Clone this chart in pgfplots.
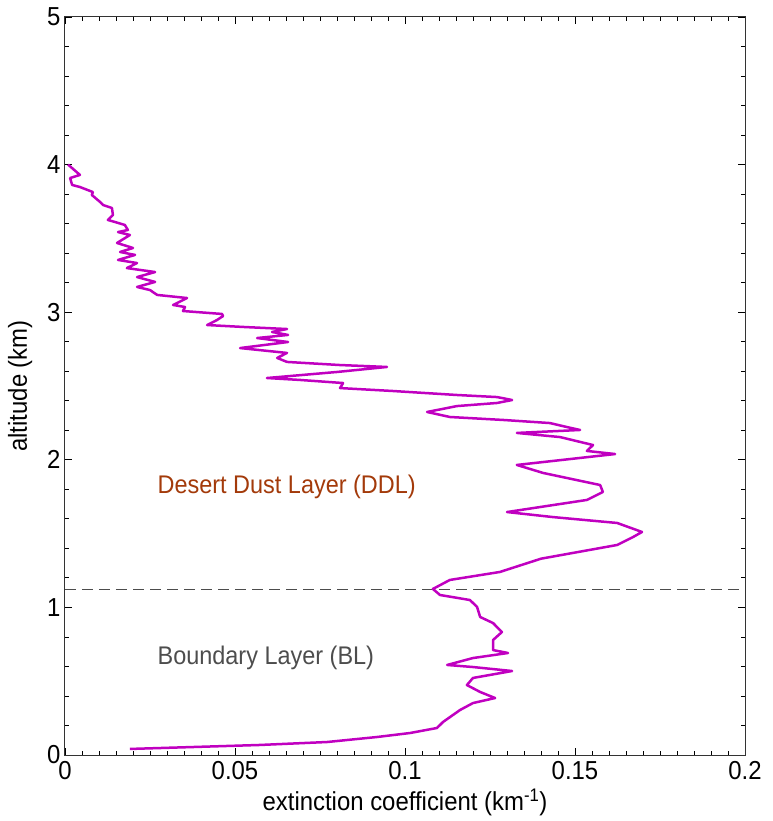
\documentclass[border=0pt]{standalone}
\usepackage{fontspec}
\setmainfont{Liberation Sans}
\newfontfamily\narrowfont{Liberation Sans}[FakeStretch=0.92]
\usepackage{pgfplots}
\pgfplotsset{compat=1.18}
\definecolor{curve}{RGB}{192,0,192}
\definecolor{ddl}{RGB}{163,58,10}
\definecolor{bl}{RGB}{77,77,77}
\pgfplotstableread{
x y
0.0009 4.000
0.0044 3.930
0.0015 3.909
0.0021 3.862
0.0044 3.848
0.0082 3.814
0.0079 3.794
0.0103 3.747
0.0112 3.726
0.0138 3.706
0.0141 3.659
0.0126 3.625
0.0147 3.611
0.0176 3.591
0.0185 3.557
0.0156 3.543
0.0191 3.523
0.0153 3.469
0.0200 3.435
0.0162 3.408
0.0206 3.388
0.0156 3.354
0.0212 3.333
0.0182 3.299
0.0265 3.272
0.0212 3.238
0.0265 3.205
0.0212 3.171
0.0250 3.150
0.0271 3.117
0.0359 3.096
0.0318 3.049
0.0353 3.035
0.0347 3.008
0.0462 2.988
0.0465 2.974
0.0447 2.947
0.0418 2.913
0.0524 2.900
0.0653 2.886
0.0609 2.866
0.0656 2.846
0.0565 2.825
0.0656 2.798
0.0515 2.757
0.0653 2.724
0.0624 2.690
0.0653 2.663
0.0809 2.642
0.0947 2.629
0.0800 2.595
0.0594 2.554
0.0691 2.541
0.0818 2.520
0.0809 2.486
0.0965 2.466
0.1153 2.439
0.1271 2.425
0.1315 2.405
0.1271 2.385
0.1153 2.364
0.1065 2.324
0.1132 2.290
0.1288 2.270
0.1426 2.249
0.1476 2.222
0.1515 2.202
0.1329 2.182
0.1456 2.154
0.1553 2.100
0.1535 2.060
0.1618 2.039
0.1329 1.965
0.1406 1.911
0.1574 1.829
0.1582 1.782
0.1535 1.728
0.1300 1.646
0.1435 1.612
0.1624 1.572
0.1697 1.511
0.1671 1.477
0.1624 1.423
0.1494 1.369
0.1400 1.330
0.1279 1.240
0.1132 1.186
0.1082 1.125
0.1103 1.084
0.1191 1.050
0.1212 1.003
0.1221 0.935
0.1259 0.894
0.1285 0.833
0.1259 0.779
0.1259 0.711
0.1303 0.691
0.1200 0.657
0.1124 0.610
0.1200 0.596
0.1315 0.569
0.1200 0.522
0.1182 0.474
0.1221 0.427
0.1265 0.386
0.1200 0.352
0.1162 0.305
0.1112 0.224
0.1094 0.183
0.1015 0.149
0.0918 0.122
0.0771 0.088
0.0574 0.068
0.0376 0.054
0.0191 0.041
}\profile
\begin{document}
\begin{tikzpicture}
\useasboundingbox (-65pt,-66pt) rectangle (707pt,755pt);
\begin{axis}[
  scale only axis, width=680pt, height=738pt,
  xmin=0, xmax=0.2, ymin=0, ymax=5,
  xtick={0,0.05,0.1,0.15,0.2},
  xticklabels={0,0.05,0.1,0.15,0.2},
  ytick={0,1,2,3,4,5},
  minor x tick num=9, minor y tick num=4,
  tick align=inside,
  major tick length=7pt, minor tick length=4pt,
  tick style={black, line width=0.8pt},
  axis line style={black!80, line width=1pt},
  /pgf/number format/assume math mode=true,
  ticklabel style={font=\narrowfont\fontsize{26}{29}\selectfont},
  xticklabel style={yshift=-3pt},
  yticklabel style={xshift=-1pt},
  label style={font=\narrowfont\fontsize{26}{30}\selectfont},
  xlabel={extinction coefficient (km\textsuperscript{-1})},
  ylabel={altitude (km)},
  xlabel style={at={(axis description cs:0.5,-0.064)}, anchor=center},
  ylabel style={at={(axis description cs:-0.066,0.5)}, anchor=center},
  clip=true,
]
\addplot[color=black!70, line width=1.2pt, dash pattern=on 11pt off 6pt] coordinates {(0,1.12) (0.2,1.12)};
\addplot[color=curve, line width=2.5pt, line join=round] table[x=x,y=y] {\profile};
\node[anchor=west, text=ddl, font=\narrowfont\fontsize{25.5}{28}\selectfont] at (axis cs:0.0262,1.816) {Desert Dust Layer (DDL)};
\node[anchor=west, text=bl, font=\narrowfont\fontsize{25.5}{28}\selectfont] at (axis cs:0.0262,0.657) {Boundary Layer (BL)};
\end{axis}
\end{tikzpicture}
\end{document}
